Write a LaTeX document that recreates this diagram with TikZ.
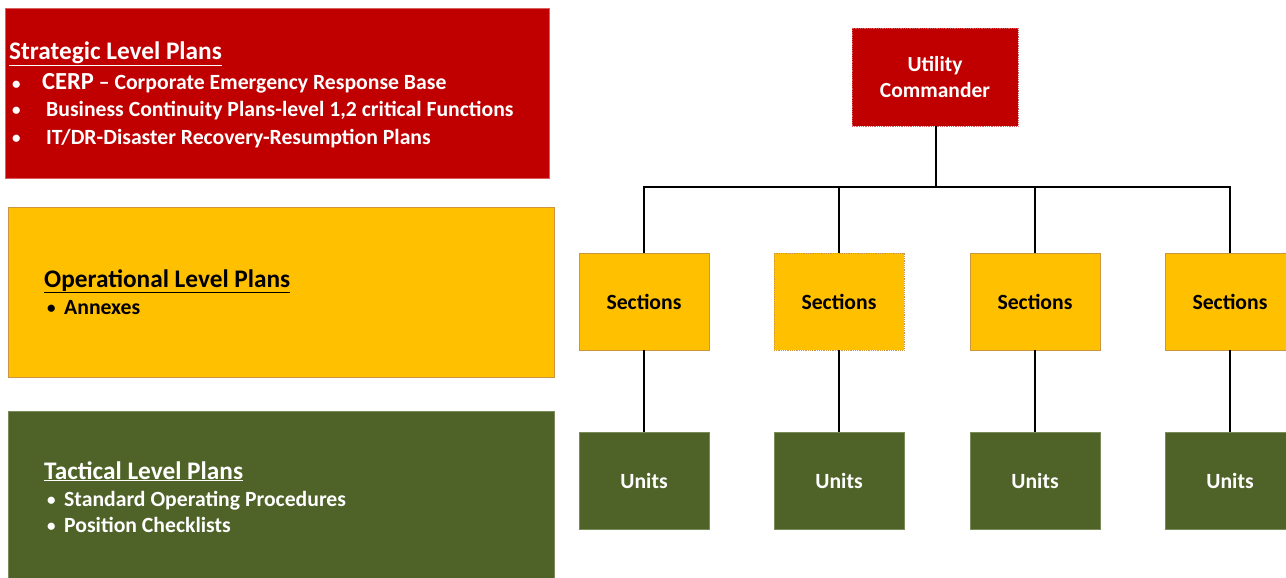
\documentclass[tikz,border=0pt]{standalone}
\usepackage{fontspec}
\setmainfont{Carlito}
\definecolor{cred}{HTML}{C00000}
\definecolor{credb}{HTML}{D96060}
\definecolor{cyel}{HTML}{FFC000}
\definecolor{cyelb}{HTML}{CC9540}
\definecolor{cgrn}{HTML}{4F6228}
\definecolor{cgrnb}{HTML}{7A8C5A}
\tikzset{
  panel/.style={rectangle, inner sep=0pt, line width=0.8pt},
  redpanel/.style={panel, fill=cred, draw=credb},
  yelpanel/.style={panel, fill=cyel, draw=cyelb},
  grnpanel/.style={panel, fill=cgrn, draw=cgrnb},
  orgbox/.style={rectangle, inner sep=0pt, minimum width=130pt, minimum height=97pt, line width=0.8pt, font=\bfseries\fontsize{21.7}{26}\selectfont, align=center},
  secbox/.style={orgbox, fill=cyel, draw=cyelb, text=black},
  unitbox/.style={orgbox, fill=cgrn, draw=cgrnb, text=white},
  txt/.style={anchor=base west, inner sep=0pt, font=\bfseries\fontsize{21.7}{26}\selectfont},
  bul/.style={anchor=base west, inner sep=0pt, font=\bfseries\fontsize{17}{20}\selectfont},
  ttl/.style={anchor=base west, inner sep=0pt, font=\bfseries\fontsize{25.3}{30}\selectfont},
  link/.style={draw=black, line width=2pt},
}
\begin{document}
\begin{tikzpicture}[x=1pt,y=-1pt]
\useasboundingbox (0,0) rectangle (1286,578);
\fill[white] (0,0) rectangle (1286,578);
% left panels
\node[redpanel, minimum width=544pt, minimum height=170pt] (strat) at (277,93) {};
\node[yelpanel, minimum width=546pt, minimum height=170pt] (oper) at (281,292) {};
\node[grnpanel, minimum width=546pt, minimum height=176pt] (tact) at (281,499) {};
% strategic text
\node[ttl, text=white] (st0) at (9,59.5) {\underline{Strategic Level Plans}};
\node[bul, text=white] (sb1) at (12,89) {•};
\node[txt, text=white] (st1) at (42,90) {{\fontsize{24.5}{28}\selectfont CERP} – Corporate Emergency Response Base};
\node[bul, text=white] (sb2) at (12,116) {•};
\node[txt, text=white] (st2) at (46,117) {Business Continuity Plans-level 1,2 critical Functions};
\node[bul, text=white] (sb3) at (12,143) {•};
\node[txt, text=white] (st3) at (46,144) {IT/DR-Disaster Recovery-Resumption Plans};
% operational text
\node[ttl, text=black] (ot0) at (44,287) {\underline{Operational Level Plans}};
\node[bul, text=black] (ob1) at (47,313) {•};
\node[txt, text=black] (ot1) at (64,314) {Annexes};
% tactical text
\node[ttl, text=white] (tt0) at (44,479) {\underline{Tactical Level Plans}};
\node[bul, text=white] (tb1) at (47,505) {•};
\node[txt, text=white] (tt1) at (64,506) {Standard Operating Procedures};
\node[bul, text=white] (tb2) at (47,531) {•};
\node[txt, text=white] (tt2) at (64,532) {Position Checklists};
% org chart
\node[orgbox, fill=cred, draw=credb, text=white, minimum width=166pt, minimum height=98pt, densely dotted, font=\bfseries\fontsize{21.5}{26}\selectfont] (cmd) at (935,77) {Utility\\Commander};
\node[secbox] (sec1) at (644,301.5) {Sections};
\node[secbox, densely dotted] (sec2) at (839,301.5) {Sections};
\node[secbox] (sec3) at (1035,301.5) {Sections};
\node[secbox] (sec4) at (1230,301.5) {Sections};
\node[unitbox] (un1) at (644,480.5) {Units};
\node[unitbox] (un2) at (839,480.5) {Units};
\node[unitbox] (un3) at (1035,480.5) {Units};
\node[unitbox] (un4) at (1230,480.5) {Units};
\coordinate (bus) at (936,187);
\draw[link] (cmd.south -| bus) -- (bus);
\draw[link] (sec1.north) |- (bus) -| (sec4.north);
\draw[link] (sec2.north) -- (sec2.north |- bus);
\draw[link] (sec3.north) -- (sec3.north |- bus);
\draw[link] (sec1.south) -- (un1.north);
\draw[link] (sec2.south) -- (un2.north);
\draw[link] (sec3.south) -- (un3.north);
\draw[link] (sec4.south) -- (un4.north);
\end{tikzpicture}
\end{document}
